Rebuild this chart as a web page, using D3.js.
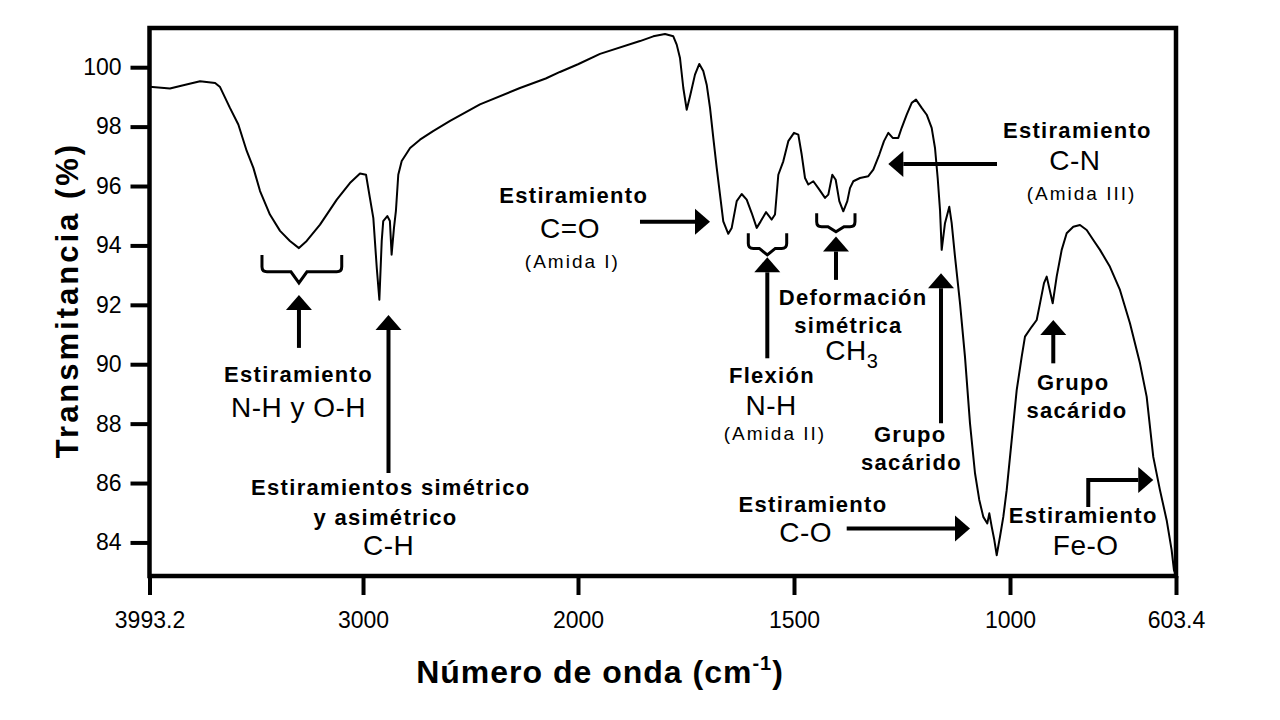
<!DOCTYPE html>
<html>
<head>
<meta charset="utf-8">
<script src="https://cdn.jsdelivr.net/npm/d3@7"></script>
<style>
  body { margin: 0; background: #fff; }
  text { font-family: "Liberation Sans", Arial, sans-serif; fill: #000; }
  .lb { font-size: 22px; font-weight: bold; letter-spacing: 1.3px; }
  .lf { font-size: 28px; letter-spacing: 0.5px; }
  .ls { font-size: 19px; letter-spacing: 2px; }
  .tick text { font-size: 23px; font-family: "Liberation Sans", Arial, sans-serif; }
</style>
</head>
<body>
<svg id="chart" width="1280" height="720"></svg>
<script>
// espectro FTIR
var wavenumber = [3993.2, 3898, 3836, 3758, 3688, 3665, 3619, 3580, 3541, 3510, 3479, 3433, 3386, 3340, 3298, 3262,
    3200, 3122, 3061, 3014, 2986, 2968, 2952, 2936, 2924, 2913, 2906, 2887, 2875, 2867, 2856, 2847, 2836, 2820,
    2781, 2735, 2674, 2595, 2456, 2270, 2150, 2084, 2000, 1949, 1856.5, 1825.7, 1798.6, 1779.4, 1771.5, 1763.9,
    1756.2, 1748.4, 1740.7, 1729.2, 1719.2, 1710, 1702.1, 1694.4, 1686.8, 1678.9, 1671.3, 1663.7, 1652.1, 1644.2,
    1632.6, 1621.1, 1609.5, 1597.9, 1586.3, 1577.1, 1564.8, 1551.6, 1544, 1536.3, 1524.8, 1513.2, 1500, 1490,
    1482.2, 1474.5, 1466.9, 1455.3, 1443.8, 1428.2, 1420.6, 1411.3, 1403.5, 1395.1, 1385.9, 1376.6, 1370.4, 1362.7,
    1347.2, 1328, 1316.4, 1302.5, 1291.7, 1281.7, 1271.5, 1258.6, 1250.7, 1239.1, 1227.5, 1217.6, 1204.4, 1192.8,
    1181.3, 1173.6, 1167.4, 1162, 1158.1, 1150.5, 1140.5, 1135, 1127.3, 1115.7, 1104.2, 1092.6, 1081, 1071.1,
    1061.8, 1052.5, 1047.9, 1042.4, 1036.3, 1030.8, 1023.2, 1015.5, 1007.7, 995.9, 984, 972.1, 964.2, 948.2,
    936.2, 928.3, 918.8, 912.3, 898, 888.5, 876.5, 864.6, 848.8, 832.8, 816.8, 801, 785, 761.2, 737.3, 713.4,
    689.5, 673.5, 657.7, 641.7, 625.7, 613.8, 608.3, 603.4];

var transmitance = [99.34, 99.28, 99.39, 99.53, 99.47, 99.33, 98.63, 98.07, 97.18, 96.61, 95.83, 95.04, 94.49, 94.15, 93.91, 94.15,
    94.70, 95.54, 96.10, 96.42, 96.38, 95.60, 94.92, 93.24, 92.17, 94.15, 94.82, 94.99, 94.82, 93.69, 94.59, 95.16, 96.38, 96.84,
    97.28, 97.56, 97.85, 98.19, 98.75, 99.30, 99.62, 99.84, 100.10, 100.45, 100.88, 101.04, 101.12, 101.04, 100.76, 100.31,
    99.30, 98.57, 99.02, 99.75, 100.11, 99.87, 99.41, 98.63, 97.62, 96.61, 95.71, 94.81, 94.39, 94.59,
    95.49, 95.73, 95.54, 95.09, 94.59, 94.81, 95.12, 94.87, 95.04, 96.38, 96.83, 97.51, 97.79, 97.73,
    97.06, 96.27, 96.05, 96.16, 95.93, 95.60, 95.71, 96.38, 96.21, 95.49, 95.15, 95.49, 95.93, 96.16,
    96.27, 96.33, 96.55, 97.06, 97.51, 97.79, 97.62, 97.62, 97.96, 98.40, 98.80, 98.91, 98.63, 98.40,
    97.96, 97.28, 96.27, 95.19, 93.85, 94.75, 95.30, 94.75, 93.62, 92.05, 90.25, 88.01, 86.33, 85.43,
    84.86, 84.64, 84.98, 84.53, 84.08, 83.57, 84.19, 84.86, 85.76, 87.45, 89.13, 90.25, 90.93, 91.26,
    91.49, 92.05, 92.73, 92.95, 92.05, 92.95, 93.85, 94.41, 94.63, 94.69, 94.52, 94.18, 93.85, 93.28, 92.50, 91.38,
    90.03, 88.91, 86.88, 85.76, 84.75, 83.74, 83.07, 82.90];

var xTicks = [3993.2, 3000, 2000, 1500, 1000, 603.4];
var yTicks = [84, 86, 88, 90, 92, 94, 96, 98, 100];

// anotaciones en unidades de datos (numero de onda, %T)
var braces = [
    [3470, 3099, 3298, 93.68, 93.11, 92.74],
    [1605.8, 1516.9, 1561.8, 94.41, 93.90, 93.68],
    [1447.5, 1358.8, 1402.8, 95.08, 94.63, 94.46]
];
var arrows = [
    [3298, 90.55, 3298, 92.33],
    [2881.5, 86.34, 2881.5, 91.66],
    [1856.5, 94.80, 1694.4, 94.80],
    [1561.8, 90.20, 1561.8, 93.60],
    [1402.8, 92.84, 1402.8, 94.30],
    [1030.1, 96.74, 1281.7, 96.74],
    [1159.7, 88.01, 1159.7, 93.06],
    [1378, 84.47, 1092.6, 84.47],
    [896.6, 90.03, 896.6, 91.49]
];
var labels = [
    [3300, 89.41, "Estiramiento", "lb"],
    [3300, 88.23, "N-H y O-H", "lf"],
    [2871, 85.59, "Estiramientos simétrico", "lb"],
    [2895, 84.58, "y asimétrico", "lb"],
    [2881, 83.57, "C-H", "lf"],
    [2020, 95.42, "Estiramiento", "lb"],
    [2037, 94.24, "C=O", "lf"],
    [2026, 93.23, "(Amida I)", "ls"],
    [1551, 89.36, "Flexión", "lb"],
    [1553, 88.29, "N-H", "lf"],
    [1544, 87.45, "(Amida II)", "ls"],
    [1363, 91.99, "Deformación", "lb"],
    [1374, 91.06, "simétrica", "lb"],
    [839, 97.61, "Estiramiento", "lb"],
    [845, 96.54, "C-N", "lf"],
    [829, 95.53, "(Amida III)", "ls"],
    [1231, 87.39, "Grupo", "lb"],
    [1228, 86.44, "sacárido", "lb"],
    [1456, 85.01, "Estiramiento", "lb"],
    [1473, 84.02, "C-O", "lf"],
    [849, 89.13, "Grupo", "lb"],
    [840, 88.18, "sacárido", "lb"],
    [825, 84.64, "Estiramiento", "lb"],
    [819, 83.57, "Fe-O", "lf"]
];

var svg = d3.select("#chart"),
    plotLeft = 149.5, plotRight = 1176, plotTop = 28, plotBottom = 576;

// eje x partido en 2000 cm-1 (escala doble por debajo)
var x = d3.scaleLinear()
    .domain([3993.2, 2000, 1000, 603.4])
    .range([plotLeft, 578, 1010, plotRight]);

var y = d3.scaleLinear()
    .domain([82.87, 101.32])
    .range([plotBottom, plotTop]);

var data = wavenumber.map(function (w, i) { return [w, transmitance[i]]; });

var line = d3.line()
    .x(function (d) { return x(d[0]); })
    .y(function (d) { return y(d[1]); });

svg.append("path")
    .datum(data)
    .attr("fill", "none")
    .attr("stroke", "#000")
    .attr("stroke-width", 2)
    .attr("stroke-linejoin", "round")
    .attr("d", line);

svg.append("rect")
    .attr("x", plotLeft)
    .attr("y", plotTop)
    .attr("width", plotRight - plotLeft)
    .attr("height", plotBottom - plotTop)
    .attr("fill", "none")
    .attr("stroke", "#000")
    .attr("stroke-width", 4.5);

var gx = svg.append("g")
    .attr("transform", "translate(0," + plotBottom + ")")
    .call(d3.axisBottom(x).tickValues(xTicks).tickFormat(function (d) { return String(d); })
        .tickSize(19).tickPadding(17).tickSizeOuter(0));
gx.select(".domain").remove();
gx.selectAll(".tick line").attr("stroke-width", 4);

var gy = svg.append("g")
    .attr("transform", "translate(" + plotLeft + ",0)")
    .call(d3.axisLeft(y).tickValues(yTicks).tickSize(19).tickPadding(9).tickSizeOuter(0));
gy.select(".domain").remove();
gy.selectAll(".tick line").attr("stroke-width", 4);

// titulos
svg.append("text")
    .attr("transform", "translate(78,300) rotate(-90)")
    .attr("text-anchor", "middle")
    .attr("font-size", 31)
    .attr("font-weight", "bold")
    .attr("letter-spacing", 3)
    .text("Transmitancia (%)");

var xt = svg.append("text")
    .attr("x", 600)
    .attr("y", 683)
    .attr("text-anchor", "middle")
    .attr("font-size", 32)
    .attr("font-weight", "bold")
    .attr("letter-spacing", 1);
xt.append("tspan").text("Número de onda (cm");
xt.append("tspan").attr("font-size", 20).attr("dy", -13).text("-1");
xt.append("tspan").attr("dy", 13).text(")");

// llaves
braces.forEach(function (b) {
    var x1 = x(b[0]), x2 = x(b[1]), xc = x(b[2]),
        yt = y(b[3]), ym = y(b[4]), yn = y(b[5]), r = 5;
    svg.append("path")
        .attr("fill", "none")
        .attr("stroke", "#000")
        .attr("stroke-width", 3)
        .attr("d", "M" + x1 + "," + yt + " L" + x1 + "," + (ym - r) + " Q" + x1 + "," + ym + " " + (x1 + r) + "," + ym +
            " L" + (xc - 8) + "," + ym + " L" + xc + "," + yn + " L" + (xc + 8) + "," + ym +
            " L" + (x2 - r) + "," + ym + " Q" + x2 + "," + ym + " " + x2 + "," + (ym - r) + " L" + x2 + "," + yt);
});

// flechas
function arrow(pts) {
    var n = pts.length,
        xa = pts[n - 2][0], ya = pts[n - 2][1],
        xb = pts[n - 1][0], yb = pts[n - 1][1],
        ang = Math.atan2(yb - ya, xb - xa),
        hl = 15, hw = 13,
        bx = xb - hl * Math.cos(ang), by = yb - hl * Math.sin(ang);
    var shaft = pts.slice(0, n - 1).concat([[bx, by]]);
    svg.append("path")
        .attr("fill", "none")
        .attr("stroke", "#000")
        .attr("stroke-width", 4)
        .attr("d", d3.line()(shaft));
    svg.append("path")
        .attr("fill", "#000")
        .attr("d", "M" + xb + "," + yb +
            " L" + (bx + hw * Math.sin(ang)) + "," + (by - hw * Math.cos(ang)) +
            " L" + (bx - hw * Math.sin(ang)) + "," + (by + hw * Math.cos(ang)) + " Z");
}

arrows.forEach(function (a) {
    arrow([[x(a[0]), y(a[1])], [x(a[2]), y(a[3])]]);
});
arrow([[x(813), y(85.19)], [x(813), y(86.10)], [x(657.7), y(86.10)]]);

// textos
labels.forEach(function (l) {
    svg.append("text")
        .attr("class", l[3])
        .attr("x", x(l[0]))
        .attr("y", y(l[1]))
        .attr("text-anchor", "middle")
        .text(l[2]);
});

var ch3 = svg.append("text")
    .attr("class", "lf")
    .attr("x", x(1366))
    .attr("y", y(90.14))
    .attr("text-anchor", "middle");
ch3.append("tspan").text("CH");
ch3.append("tspan").attr("font-size", 20).attr("dy", 8).text("3");
</script>
</body>
</html>
